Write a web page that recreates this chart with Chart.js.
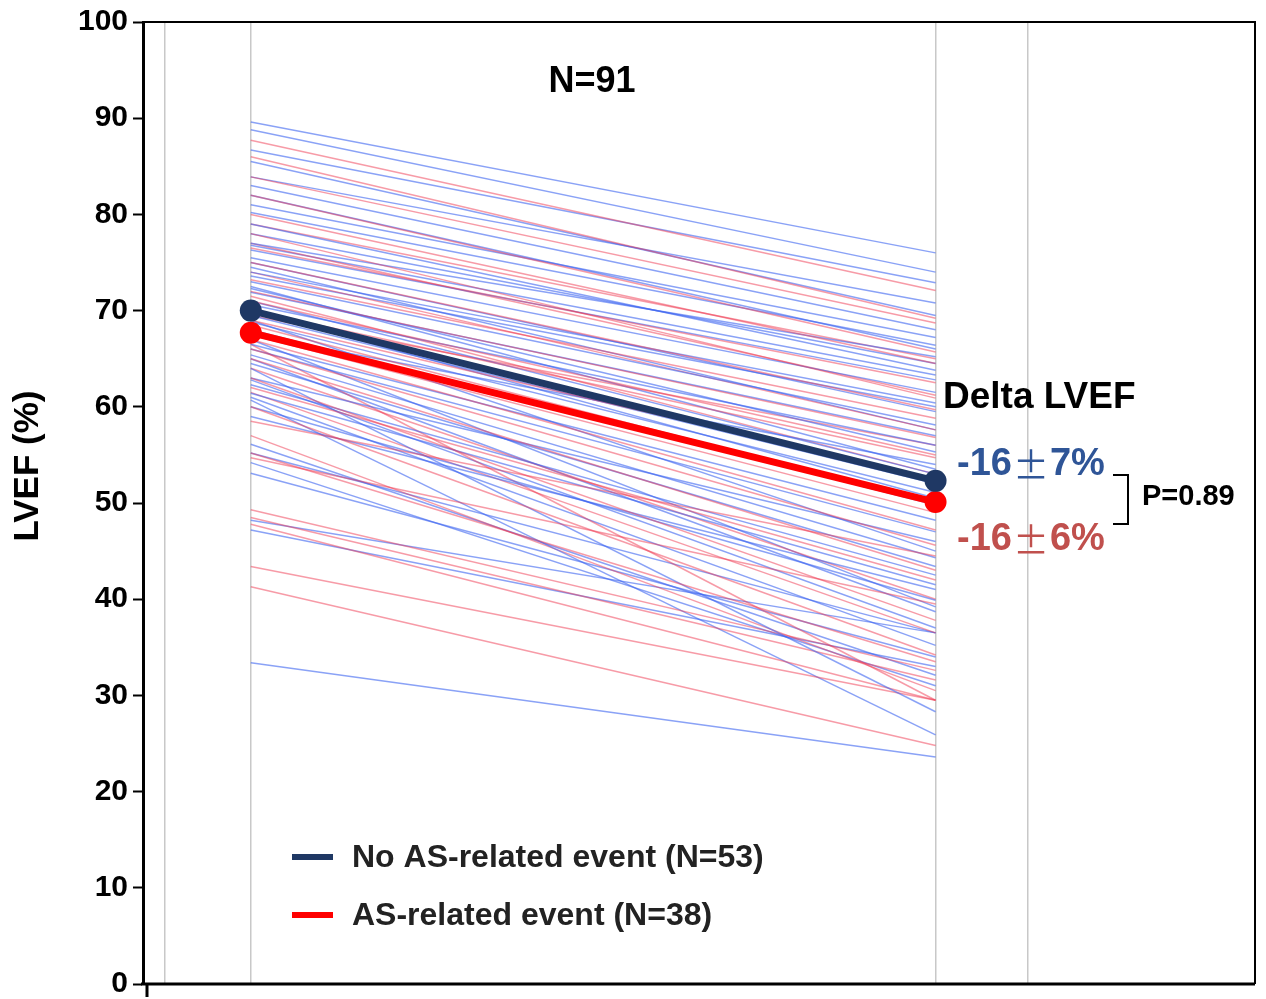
<!DOCTYPE html>
<html>
<head>
<meta charset="utf-8">
<script src="https://cdn.jsdelivr.net/npm/chart.js@4.4.1/dist/chart.umd.min.js"></script>
<style>
  html, body { margin: 0; padding: 0; background: #fff; }
</style>
</head>
<body>
<canvas id="lvefChart" width="1266" height="999"></canvas>
<script>
// timepoints on the x axis
const timepoints = [1, 2];
const yTicks = [0, 10, 20, 30, 40, 50, 60, 70, 80, 90, 100];

// individual patients, no AS-related event (N=53)
const blueStart = [89.6, 88.8, 86.7, 83.9, 83.0, 81.0, 79.0, 77.0, 76.3, 75.5,
                   74.0, 73.0, 72.3, 71.9, 71.0, 70.6, 69.5, 68.8, 68.0, 67.5,
                   66.5, 66.0, 65.4, 64.5, 64.0, 63.0, 62.3, 61.4, 60.7, 60.0,
                   59.0, 78.0, 80.2, 75.0, 73.6, 70.0, 69.0, 67.0, 65.0, 62.8,
                   61.0, 56.1, 55.2, 54.2, 53.1, 48.2, 47.2, 33.4, 76.8, 74.5,
                   85.5, 72.5, 82.0];
const blueEnd   = [76.0, 74.0, 72.9, 70.8, 68.0, 67.2, 63.8, 65.2, 62.8, 61.5,
                   60.4, 58.1, 55.3, 57.0, 53.0, 56.0, 52.0, 51.1, 49.8, 54.0,
                   48.2, 47.0, 44.3, 43.4, 28.3, 46.0, 42.5, 41.5, 25.9, 39.9,
                   41.0, 64.5, 66.4, 59.5, 60.0, 50.5, 45.0, 39.2, 38.7, 37.0,
                   35.2, 32.1, 36.5, 31.0, 34.0, 36.5, 33.0, 23.6, 63.3, 57.6,
                   69.5, 53.5, 66.0];

// individual patients, AS-related event (N=38)
const redStart = [87.7, 86.0, 83.9, 82.0, 80.0, 78.0, 76.5, 75.0, 73.2, 72.0,
                  71.0, 70.0, 69.0, 68.5, 67.5, 67.0, 66.0, 65.0, 63.0, 62.0,
                  60.0, 58.5, 55.2, 54.7, 49.3, 48.5, 47.8, 43.4, 41.3, 79.0,
                  74.0, 71.5, 69.5, 66.5, 64.0, 61.5, 57.0, 77.0];
const redEnd   = [72.1, 69.2, 68.7, 65.7, 64.5, 60.9, 62.5, 59.7, 58.8, 56.8,
                  55.0, 54.7, 52.5, 50.0, 49.0, 47.2, 45.6, 43.0, 37.8, 42.0,
                  34.2, 44.5, 33.5, 39.5, 32.6, 31.6, 29.5, 29.5, 24.8, 65.0,
                  57.6, 53.0, 56.0, 29.5, 40.0, 36.5, 30.5, 61.2];

// group means
const blueMean = [70.0, 52.3];
const redMean  = [67.7, 50.1];

const FONT = "'Liberation Sans', Arial, sans-serif";
const CJK = "'Noto Sans CJK JP', sans-serif";
const NAVY = '#1f3864';
const RED = '#ff0000';

function pts(a, b) {
  return [{ x: timepoints[0], y: a }, { x: timepoints[1], y: b }];
}

const datasets = [];
datasets.push({
  data: pts(blueMean[0], blueMean[1]),
  borderColor: NAVY, backgroundColor: NAVY, borderWidth: 7,
  pointRadius: 11, pointBackgroundColor: NAVY, pointBorderWidth: 0, order: 0
});
datasets.push({
  data: pts(redMean[0], redMean[1]),
  borderColor: RED, backgroundColor: RED, borderWidth: 7,
  pointRadius: 11, pointBackgroundColor: RED, pointBorderWidth: 0, order: 0
});
const n = Math.max(blueStart.length, redStart.length);
for (let i = 0; i < n; i++) {
  if (i < blueStart.length) {
    datasets.push({
      data: pts(blueStart[i], blueEnd[i]),
      borderColor: 'rgba(60,100,240,0.6)', borderWidth: 1.5, pointRadius: 0, order: 1
    });
  }
  if (i < redStart.length) {
    datasets.push({
      data: pts(redStart[i], redEnd[i]),
      borderColor: 'rgba(240,55,80,0.5)', borderWidth: 1.5, pointRadius: 0, order: 1
    });
  }
}

// "-16±7%" with a wide plus-minus glyph
function deltaText(ctx, x, y, pre, post, color) {
  ctx.fillStyle = color;
  ctx.font = 'bold 38px ' + FONT;
  ctx.fillText(pre, x, y);
  x += ctx.measureText(pre).width + 1;
  ctx.font = '36px ' + CJK;
  ctx.fillText('\u00b1', x, y);
  x += ctx.measureText('\u00b1').width + 1;
  ctx.font = 'bold 38px ' + FONT;
  ctx.fillText(post, x, y);
}

// frame, labels, bracket and legend
const extras = {
  id: 'extras',
  afterDraw(chart) {
    const { ctx, chartArea: a } = chart;
    ctx.save();
    ctx.strokeStyle = '#000';
    ctx.lineWidth = 2;
    ctx.beginPath();
    ctx.moveTo(a.left, a.top);
    ctx.lineTo(a.right, a.top);
    ctx.lineTo(a.right, a.bottom);
    ctx.stroke();
    ctx.lineWidth = 3;
    ctx.beginPath();
    ctx.moveTo(a.left - 2, a.bottom);
    ctx.lineTo(a.right, a.bottom);
    ctx.stroke();
    ctx.beginPath();
    ctx.moveTo(a.left + 4, a.bottom);
    ctx.lineTo(a.left + 4, a.bottom + 13);
    ctx.stroke();

    // y axis title
    ctx.save();
    ctx.translate(28, 466);
    ctx.rotate(-Math.PI / 2);
    ctx.font = 'bold 35px ' + FONT;
    ctx.fillStyle = '#000';
    ctx.textAlign = 'center';
    ctx.textBaseline = 'middle';
    ctx.fillText('LVEF (%)', 0, 0);
    ctx.restore();

    ctx.textBaseline = 'middle';
    ctx.textAlign = 'center';
    ctx.fillStyle = '#000';
    ctx.font = 'bold 36px ' + FONT;
    ctx.fillText('N=91', 592, 82);

    ctx.textAlign = 'left';
    ctx.font = 'bold 37px ' + FONT;
    ctx.fillText('Delta LVEF', 943, 398);

    deltaText(ctx, 957, 465, '-16', '7%', '#2f5597');
    deltaText(ctx, 957, 540, '-16', '6%', '#c0504d');

    ctx.strokeStyle = '#000';
    ctx.lineWidth = 2;
    ctx.beginPath();
    ctx.moveTo(1113, 475);
    ctx.lineTo(1128, 475);
    ctx.lineTo(1128, 524);
    ctx.lineTo(1113, 524);
    ctx.stroke();
    ctx.fillStyle = '#000';
    ctx.font = 'bold 29px ' + FONT;
    ctx.fillText('P=0.89', 1142, 497);

    // legend
    ctx.lineWidth = 6;
    ctx.strokeStyle = NAVY;
    ctx.beginPath();
    ctx.moveTo(292, 857);
    ctx.lineTo(333, 857);
    ctx.stroke();
    ctx.strokeStyle = RED;
    ctx.beginPath();
    ctx.moveTo(292, 915);
    ctx.lineTo(333, 915);
    ctx.stroke();
    ctx.fillStyle = '#222';
    ctx.font = 'bold 32px ' + FONT;
    ctx.fillText('No AS-related event (N=53)', 352, 858);
    ctx.fillText('AS-related event (N=38)', 352, 916);
    ctx.restore();
  }
};

new Chart(document.getElementById('lvefChart'), {
  type: 'line',
  data: { datasets: datasets },
  plugins: [extras],
  options: {
    responsive: false,
    animation: false,
    layout: { padding: { left: 0, top: 22, right: 9, bottom: 15 } },
    plugins: { legend: { display: false }, tooltip: { enabled: false } },
    scales: {
      x: {
        type: 'linear',
        min: 0.8426,
        max: 2.4665,
        afterBuildTicks: (scale) => {
          scale.ticks = [0.8746, 1, 2, 2.134].map(v => ({ value: v }));
        },
        afterFit: (scale) => { scale.height = 0; },
        ticks: { display: false },
        border: { display: false },
        grid: { color: '#c8c8c8', lineWidth: 1.5, drawTicks: false }
      },
      y: {
        min: 0,
        max: 100,
        afterBuildTicks: (scale) => {
          scale.ticks = yTicks.map(v => ({ value: v }));
        },
        afterFit: (scale) => {
          scale.width = 143;
          scale.paddingTop = 0;
          scale.paddingBottom = 0;
        },
        ticks: {
          color: '#000',
          padding: 5,
          font: { family: FONT, size: 30, weight: 'bold' }
        },
        border: { color: '#000', width: 3 },
        grid: { drawOnChartArea: false, tickLength: 10, tickColor: '#000', tickWidth: 2 }
      }
    }
  }
});
</script>
</body>
</html>
